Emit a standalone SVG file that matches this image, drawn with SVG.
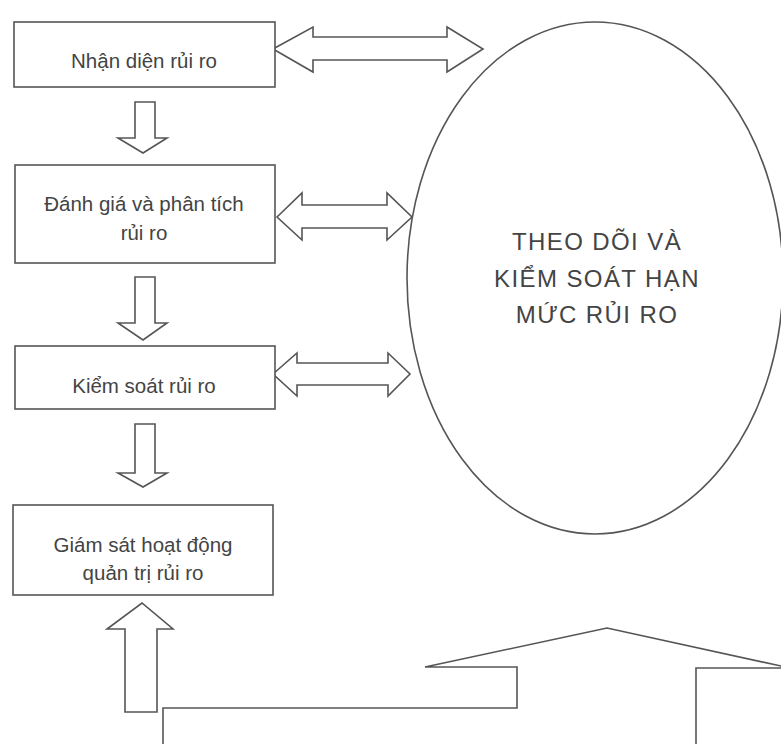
<svg xmlns="http://www.w3.org/2000/svg" width="781" height="744" viewBox="0 0 781 744">
<style>
.box{fill:#fff;stroke:#555;stroke-width:1.6}
.arr{fill:#fff;stroke:#555;stroke-width:1.6;stroke-linejoin:miter}
.t{font-family:"Liberation Sans",Arial,sans-serif;font-size:20.5px;fill:#444;text-anchor:middle}
.big{font-family:"Liberation Sans",Arial,sans-serif;font-size:24px;fill:#444;text-anchor:middle;letter-spacing:1.4px}
</style>
<rect width="781" height="744" fill="#fff"/>
<g id="connectors">
<path class="arr" d="M135,102 L155,102 L155,138 L167,138 L143,153 L118,138 L135,138 Z"/>
<path class="arr" d="M135,277 L155,277 L155,323 L167,323 L143,340 L118,323 L135,323 Z"/>
<path class="arr" d="M135,424 L155,424 L155,473 L167,473 L143,487 L118,473 L135,473 Z"/>
<path class="arr" d="M125,712 L157,712 L157,629 L173,629 L142,603 L107,629 L125,629 Z"/>
<path class="arr" d="M273,49 L313,27 L313,37 L447,37 L447,27 L483,49 L447,72 L447,60 L313,60 L313,72 Z"/>
<path class="arr" d="M277,217 L302,193 L302,205 L387,205 L387,193 L412,217 L387,240 L387,228 L302,228 L302,240 Z"/>
<path class="arr" d="M273,374 L297,353 L297,363 L388,363 L388,353 L410,374 L388,396 L388,385 L297,385 L297,396 Z"/>
</g>
<g id="n1"><rect class="box" x="14" y="22" width="261" height="65"/><text class="t" x="144" y="68">Nhận diện rủi ro</text></g>
<g id="n2"><rect class="box" x="15" y="165" width="260" height="98"/><text class="t" x="144" y="211">Đánh giá và phân tích</text><text class="t" x="144" y="240">rủi ro</text></g>
<g id="n3"><rect class="box" x="15" y="346" width="260" height="63"/><text class="t" x="144" y="393">Kiểm soát rủi ro</text></g>
<g id="n4"><rect class="box" x="13" y="505" width="260" height="90"/><text class="t" x="143" y="552">Giám sát hoạt động</text><text class="t" x="143" y="580">quản trị rủi ro</text></g>
<g id="ellipse"><ellipse class="box" cx="595" cy="278" rx="188" ry="256"/>
<text class="big" x="597" y="250">THEO DÕI VÀ</text>
<text class="big" x="597" y="287">KIỂM SOÁT HẠN</text>
<text class="big" x="597" y="323">MỨC RỦI RO</text></g>
<g id="bigarrow"><path class="arr" d="M163,746 L163,708 L517,708 L517,667 L425,667 L607,628 L790,668 L696,668 L696,746"/></g>
</svg>
